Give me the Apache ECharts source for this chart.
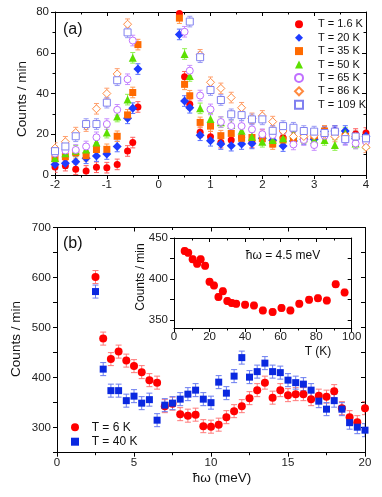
<!DOCTYPE html>
<html><head><meta charset="utf-8">
<script src="https://cdn.jsdelivr.net/npm/echarts@6/dist/echarts.min.js"></script>
<style>html,body{margin:0;padding:0;background:#fff}#c{width:382px;height:497px}</style>
</head><body><div id="c"></div>
<script>
// ---------- Panel (a) data ----------
const xA = [-2,-1.8,-1.6,-1.4,-1.2,-1.0,-0.8,-0.6,-0.5,-0.4,0.4,0.5,0.6,0.8,1.0,1.2,1.4,1.6,1.8,2.0,2.2,2.4,2.6,2.8,3.0,3.2,3.4,3.6,3.8,4.0];
const a1p6 = [3.9,4.6,2.8,2.0,3.8,3.6,5.2,11.8,15.9,33.4,79.3,48.2,34.7,21.0,18.8,15.9,17.2,18.5,16.0,19.6,16.3,18.3,18.3,18.3,18.3,21.6,21.6,19.9,20.1,20.6];
const a20  = [5.2,5.8,6.5,8.2,9.3,10.3,14.0,27.8,32.8,52.0,69.0,36.3,33.0,19.5,16.8,15.2,14.4,15.2,15.5,18.0,17.0,14.2,16.7,17.5,17.6,21.3,21.6,21.6,18.0,19.0];
const a35  = [8.0,9.0,10.9,9.5,12.5,12.6,19.0,29.5,40.5,64.0,77.0,44.5,38.9,25.8,24.0,19.3,20.4,18.0,18.4,17.8,15.2,17.2,17.2,18.9,19.3,21.6,20.0,18.9,18.9,17.2];
const a50  = [8.3,10.7,11.9,12.5,16.0,20.8,28.7,37.0,57.5,null,null,59.4,48.6,32.7,27.5,25.9,24.5,21.7,18.8,16.3,17.2,18.0,20.0,18.0,17.2,17.2,14.7,20.6,15.5,15.0];
const a65  = [10.5,12.0,12.3,14.0,18.5,25.0,32.0,47.0,66.0,null,null,70.3,51.2,39.0,32.2,26.0,24.0,24.0,22.4,20.0,19.6,21.6,15.0,17.2,14.7,19.3,20.6,17.2,15.5,16.4];
const a86  = [13.2,16.3,20.8,24.0,32.5,40.0,49.6,74.0,null,null,null,null,null,59.0,45.5,42.5,38.0,33.0,27.8,29.0,26.2,21.6,18.9,18.9,19.3,20.0,18.9,19.3,18.9,13.6];
const a109 = [11.7,14.0,19.0,25.0,25.0,35.5,46.5,70.0,null,null,null,null,75.3,57.8,41.7,36.8,29.8,29.4,27.3,27.3,21.7,24.0,23.2,21.6,21.3,20.6,21.3,17.6,18.9,18.0];
const namesA = ['T = 1.6 K','T = 20 K','T = 35 K','T = 50 K','T = 65 K','T = 86 K','T = 109 K'];
const seriesA = [a1p6,a20,a35,a50,a65,a86,a109];
const errA = 2.6;

// ---------- Panel (b) data ----------
const xB = [2.5,3,3.5,4,4.5,5,5.5,6,6.5,7,7.5,8,8.5,9,9.5,10,10.5,11,11.5,12,12.5,13,13.5,14,14.5,15,15.5,16,16.5,17,17.5,18,18.5,19,19.5,20];
const b6K  = [601,478,437,452,434,423,411,395,390,343,348,327,324,326,303,302,306,321,333,343,359,375,390,360,375,365,367,367,357,364,362,373,339,321,311,339];
const b40K = [572,417,374,374,354,363,349,356,315,345,349,357,367,375,357,350,391,369,403,440,401,412,429,412,410,395,390,387,375,353,337,354,337,310,301,295];
const namesB = ['T = 6 K','T = 40 K'];
const errB = 13;

// ---------- Inset data ----------
const tInset = [6,8,10.5,13,15,17.5,20,22.5,25,27.5,30,32.5,35,40,45,50,55.5,60.5,65.5,70.5,76,81,86,91,96];
const vInset = [434,432,424,418.5,424,416,396.5,392,378,385,373,370.5,369.5,368.5,367.5,361.5,359.5,364.5,361.5,369.5,374.5,376.5,373.5,393.5,383.5];
const errI = 4;

// tick labels
const ticksAx = [-2,-1,0,1,2,3,4];
const ticksAy = [0,20,40,60,80];
const ticksBx = [0,5,10,15,20];
const ticksBy = [300,400,500,600,700];
const ticksIx = [0,20,40,60,80,100];
const ticksIy = [350,400,450];

// ---------- styles ----------
const FONT = '"Liberation Sans", Arial, sans-serif';
const stylesA = [
  {sym:'circle',   size:7, fill:'#ff0000', stroke:'#ff0000', err:'#ff6060'},
  {sym:'diamond',  size:9, fill:'#1e3cff', stroke:'#1e3cff', err:'#5a70ff'},
  {sym:'rect',     size:7, fill:'#ff6a00', stroke:'#ff6a00', err:'#ff9a50'},
  {sym:'triangle', size:8, fill:'#5ce000', stroke:'#5ce000', err:'#90f050'},
  {sym:'circle',   size:7, fill:'#ffffff', stroke:'#c070ff', err:'#c890ff'},
  {sym:'diamond',  size:8, fill:'#ffffff', stroke:'#ff8a40', err:'#ffa070'},
  {sym:'rect',     size:7, fill:'#ffffff', stroke:'#8080f0', err:'#9a9af5'}
];
const stylesB = [
  {sym:'circle', size:8, fill:'#ff0000', stroke:'#ff0000', err:'#ff7a7a'},
  {sym:'rect',   size:7, fill:'#0a28e0', stroke:'#0a28e0', err:'#6a7cf0'}
];

function errSeries(xi, yi, data, color, capW){
  return {
    type:'custom', xAxisIndex:xi, yAxisIndex:yi, data:data, clip:true, silent:true, z:1,
    renderItem:function(params, api){
      const x=api.value(0), y=api.value(1), e=api.value(2);
      const p1=api.coord([x,y+e]), p2=api.coord([x,y-e]);
      const st={stroke:color, lineWidth:1};
      return {type:'group', children:[
        {type:'line', shape:{x1:p1[0],y1:p1[1],x2:p2[0],y2:p2[1]}, style:st},
        {type:'line', shape:{x1:p1[0]-capW,y1:p1[1],x2:p1[0]+capW,y2:p1[1]}, style:st},
        {type:'line', shape:{x1:p2[0]-capW,y1:p2[1],x2:p2[0]+capW,y2:p2[1]}, style:st}
      ]};
    }
  };
}
function pts(xs, ys, e){
  const out=[];
  for(let i=0;i<xs.length;i++){ if(ys[i]!==null && ys[i]!==undefined) out.push([xs[i], ys[i], e]); }
  return out;
}

const series=[];
seriesA.forEach((ys,i)=>{
  const s=stylesA[i]; const d=pts(xA,ys,errA);
  series.push(errSeries(0,0,d,s.err,2.5));
  series.push({type:'scatter', name:namesA[i], xAxisIndex:0, yAxisIndex:0, data:d, symbol:s.sym, symbolSize:s.size, z:3,
    itemStyle:{color:s.fill, borderColor:s.stroke, borderWidth: s.fill==='#ffffff'?1:0, opacity:1}, clip:true});
});
[b6K,b40K].forEach((ys,i)=>{
  const s=stylesB[i]; const d=pts(xB,ys,errB);
  series.push(errSeries(2,2,d,s.err,3));
  series.push({type:'scatter', name:namesB[i], xAxisIndex:2, yAxisIndex:2, data:d, symbol:s.sym, symbolSize:s.size, z:3+i,
    itemStyle:{color:s.fill, borderColor:s.stroke, borderWidth:0, opacity:1}, clip:true});
});
{
  const d=pts(tInset,vInset,errI);
  series.push(errSeries(4,4,d,'#ff7a7a',2.5));
  series.push({type:'scatter', name:'inset', xAxisIndex:4, yAxisIndex:4, data:d, symbol:'circle', symbolSize:8, z:3,
    itemStyle:{color:'#ff0000', opacity:1}, clip:true});
}

const LBL={color:'#222', fontSize:11.5, fontFamily:FONT};
function xAx(grid, min, max, interval, pos, labels, margin){
  const main = pos==='bottom';
  return {type:'value', gridIndex:grid, position:pos, min:min, max:max, interval:interval,
    axisLine:{show:true, onZero:false, lineStyle:{color:'#000', width:1}},
    axisTick:{show:true, inside:!main, length:4, lineStyle:{color:'#000'}},
    minorTick:{show:true, splitNumber:2, length:2.5, lineStyle:{color:'#000'}},
    axisLabel:{show:main, margin:margin, ...LBL, customValues: labels, formatter:(v)=>String(v)},
    splitLine:{show:false}, minorSplitLine:{show:false}};
}
function yAx(grid, min, max, interval, pos, labels, ticks, minor){
  const main = pos==='left';
  const o = {type:'value', gridIndex:grid, position:pos, min:min, max:max,
    axisLine:{show:true, onZero:false, lineStyle:{color:'#000', width:1}},
    axisTick:{show:true, inside:!main, length:4, lineStyle:{color:'#000'}},
    minorTick:{show:minor, splitNumber:2, length:2.5, lineStyle:{color:'#000'}},
    axisLabel:{show:main, margin:6, ...LBL, customValues: labels, formatter:(v)=>String(v)},
    splitLine:{show:false}, minorSplitLine:{show:false}};
  if(interval) o.interval=interval;
  if(ticks) o.axisTick.customValues = ticks;
  return o;
}
const tksB = [250,300,350,400,450,500,550,600,650,700];
const tksI = [350,375,400,425,450];

const option = {
  animation:false,
  backgroundColor:'#fff',
  textStyle:{fontFamily:FONT},
  grid:[
    {left:55, top:12, width:311, height:163},
    {left:57, top:227.5, width:308, height:225.2},
    {left:174, top:238, width:177.7, height:90}
  ],
  xAxis:[
    xAx(0,-2,4,1,'bottom',ticksAx,4), xAx(0,-2,4,1,'top',ticksAx,4),
    xAx(1,0,20,5,'bottom',ticksBx,4), xAx(1,0,20,5,'top',ticksBx,4),
    xAx(2,0,100,20,'bottom',ticksIx,3), xAx(2,0,100,20,'top',ticksIx,3)
  ],
  yAxis:[
    yAx(0,0,80,20,'left',ticksAy,null,true), yAx(0,0,80,20,'right',ticksAy,null,true),
    yAx(1,250,700,null,'left',ticksBy,tksB,false), yAx(1,250,700,null,'right',ticksBy,tksB,false),
    yAx(2,340,450,null,'left',ticksIy,tksI,false), yAx(2,340,450,null,'right',ticksIy,tksI,false)
  ],
  legend:[
    {data:namesA, orient:'vertical', left:294, top:17.6, itemWidth:8, itemHeight:8, itemGap:0, selectedMode:false,
     textStyle:{fontSize:11, color:'#111', fontFamily:FONT, lineHeight:13.4, padding:[0,0,0,10]}, padding:0},
    {data:namesB, orient:'vertical', left:71, top:420.1, itemWidth:8, itemHeight:8, itemGap:0, selectedMode:false,
     textStyle:{fontSize:12, color:'#111', fontFamily:FONT, lineHeight:14.4, padding:[0,0,0,7.7]}, padding:0}
  ],
  graphic:[
    {type:'text', left:63, top:22, style:{text:'(a)', fontSize:16, fill:'#111', fontFamily:FONT}},
    {type:'text', left:63, top:236, style:{text:'(b)', fontSize:16, fill:'#111', fontFamily:FONT}},
    {type:'text', x:22, y:99, rotation:Math.PI/2, style:{text:'Counts / min', fontSize:13.5, fill:'#111', fontFamily:FONT, align:'center', verticalAlign:'middle'}},
    {type:'text', x:16, y:339, rotation:Math.PI/2, style:{text:'Counts / min', fontSize:13.5, fill:'#111', fontFamily:FONT, align:'center', verticalAlign:'middle'}},
    {type:'text', x:222, y:478, style:{text:'ħω (meV)', fontSize:13.5, fill:'#111', fontFamily:FONT, align:'center', verticalAlign:'middle'}},
    {type:'text', x:141, y:277, rotation:Math.PI/2, style:{text:'Counts / min', fontSize:12, fill:'#111', fontFamily:FONT, align:'center', verticalAlign:'middle'}},
    {type:'text', x:318, y:352, style:{text:'T (K)', fontSize:12, fill:'#111', fontFamily:FONT, align:'center', verticalAlign:'middle'}},
    {type:'text', x:283, y:256, style:{text:'ħω = 4.5 meV', fontSize:12, fill:'#111', fontFamily:FONT, align:'center', verticalAlign:'middle'}}
  ],
  series:series
};
const chart = echarts.init(document.getElementById('c'), null, {renderer:'canvas'});
chart.setOption(option);
</script>
</body></html>
